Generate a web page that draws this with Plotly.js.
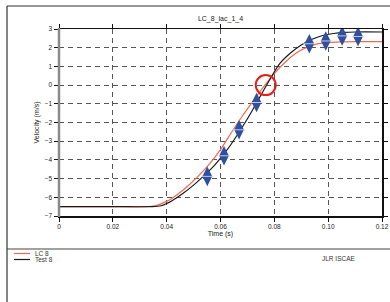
<!DOCTYPE html>
<html>
<head>
<meta charset="utf-8">
<script src="https://cdn.plot.ly/plotly-3.0.1.min.js"></script>
<style>
html,body{margin:0;padding:0;background:#fff;}
#chart{width:390px;height:302px;}
</style>
</head>
<body>
<div id="chart"></div>
<script>
// ---- data ----
const chartTitle = "LC_8_lac_1_4";
const xTitle = "Time (s)";
const yTitle = "Velocity (m/s)";
const footerText = "JLR ISCAE";

const lcName = "LC 8";
const lcTime = [0, 0.01, 0.02, 0.032, 0.036, 0.040, 0.044, 0.048, 0.052, 0.056, 0.060, 0.064, 0.068, 0.072, 0.076, 0.080, 0.084, 0.088, 0.092, 0.096, 0.100, 0.105, 0.110, 0.120];
const lcVel  = [-6.5, -6.5, -6.5, -6.5, -6.44, -6.22, -5.85, -5.38, -4.83, -4.2, -3.45, -2.55, -1.68, -0.88, -0.1, 0.62, 1.22, 1.7, 2.02, 2.2, 2.28, 2.31, 2.32, 2.32];

const testName = "Test 8";
const testTime = [0, 0.01, 0.02, 0.034, 0.038, 0.042, 0.046, 0.050, 0.054, 0.058, 0.062, 0.066, 0.070, 0.074, 0.078, 0.082, 0.086, 0.090, 0.094, 0.098, 0.102, 0.106, 0.110, 0.120];
const testVel  = [-6.5, -6.5, -6.5, -6.5, -6.45, -6.18, -5.8, -5.35, -4.83, -4.25, -3.55, -2.72, -1.8, -0.8, 0.22, 1.15, 1.72, 2.15, 2.45, 2.65, 2.76, 2.82, 2.84, 2.84];

const pointTime = [0.0551, 0.0613, 0.0669, 0.0734, 0.0930, 0.0991, 0.1052, 0.1111];
const pointVel  = [-4.88, -3.78, -2.39, -0.93, 2.21, 2.36, 2.63, 2.60];

const highlightTime = [0.0768];
const highlightVel  = [0.0];

const xTickVals = [0, 0.02, 0.04, 0.06, 0.08, 0.10, 0.12];
const xTickText = ["0", "0.02", "0.04", "0.06", "0.08", "0.10", "0.12"];
const yTickVals = [3, 2, 1, 0, -1, -2, -3, -4, -5, -6, -7];

// ---- chart ----
const FONT = "Liberation Sans, Arial, sans-serif";
const traces = [
  {x: lcTime, y: lcVel, name: lcName, mode: "lines", line: {color: "#f2684f", width: 1.2, shape: "spline", smoothing: 0.8}, showlegend: false},
  {x: testTime, y: testVel, name: testName, mode: "lines", line: {color: "#1a1a1a", width: 1.2, shape: "spline", smoothing: 0.8}, showlegend: false},
  {x: pointTime, y: pointVel, mode: "markers", showlegend: false,
   marker: {symbol: "diamond-tall", size: 14, color: "#2f4f9f", line: {width: 0}}},
  {x: pointTime, y: pointVel, mode: "markers", showlegend: false,
   marker: {symbol: "line-ew", size: 9, line: {color: "rgba(215,225,245,0.85)", width: 1}}},
  {x: highlightTime, y: highlightVel, mode: "markers", showlegend: false,
   marker: {symbol: "circle-open", size: 20, color: "#e0201b", line: {width: 2, color: "#e0201b"}}}
];

// paper coordinate helpers (plot area: px 59..382 horizontally, 29..216 vertically)
const L = 59, R = 382, T = 29, B = 216;
const px = v => (v - L) / (R - L);
const py = v => 1 - (v - T) / (B - T);

const lcLegendY = py(253.5), testLegendY = py(259.5);

const layout = {
  width: 390, height: 302,
  margin: {l: L, r: 390 - R, t: T, b: 302 - B, pad: 0},
  paper_bgcolor: "#fff", plot_bgcolor: "#fff",
  font: {family: FONT, size: 7, color: "#222"},
  title: {text: chartTitle, font: {size: 7, color: "#222"}, x: 0.5, xref: "paper", y: 1 - 19 / 302, yref: "container", yanchor: "middle"},
  showlegend: false,
  xaxis: {
    range: [0, 0.12], tickvals: xTickVals, ticktext: xTickText,
    showline: true, linecolor: "#111", linewidth: 1.5, mirror: "ticks",
    ticks: "outside", ticklen: 4, tickcolor: "#111", tickwidth: 1,
    showgrid: true, gridcolor: "#555", gridwidth: 1, griddash: "5px,4px",
    zeroline: false, tickfont: {size: 6.5, color: "#222"},
    title: {text: xTitle, font: {size: 7, color: "#222"}, standoff: 0}
  },
  yaxis: {
    range: [-7, 3], tickvals: yTickVals,
    showline: true, linecolor: "#111", linewidth: 1.5, mirror: "ticks",
    ticks: "outside", ticklen: 4, tickcolor: "#111", tickwidth: 1,
    showgrid: true, gridcolor: "#555", gridwidth: 1, griddash: "5px,4px",
    zeroline: false, tickfont: {size: 6.5, color: "#222"},
    title: {text: yTitle, font: {size: 7, color: "#222"}, standoff: 4}
  },
  shapes: [
    {type: "line", xref: "paper", yref: "paper", x0: 0, x1: 0, y0: py(B + 1), y1: py(T - 1), line: {color: "#8a8a8a", width: 2.5}},
    {type: "line", xref: "paper", yref: "paper", x0: px(7), x1: px(7), y0: py(302), y1: py(6), line: {color: "#333", width: 1.2}},
    {type: "line", xref: "paper", yref: "paper", x0: px(7), x1: px(390), y0: py(6), y1: py(6), line: {color: "#333", width: 1.2}},
    {type: "line", xref: "paper", yref: "paper", x0: px(7), x1: px(390), y0: py(249), y1: py(249), line: {color: "#444", width: 1.2}},
    {type: "line", xref: "paper", yref: "paper", x0: px(14), x1: px(30), y0: lcLegendY, y1: lcLegendY, line: {color: "#f2684f", width: 1.2}},
    {type: "line", xref: "paper", yref: "paper", x0: px(14), x1: px(30), y0: testLegendY, y1: testLegendY, line: {color: "#1a1a1a", width: 1.2}}
  ],
  annotations: [
    {text: lcName, xref: "paper", yref: "paper", x: px(33), y: lcLegendY, xanchor: "left", yanchor: "middle", showarrow: false, font: {size: 6.5, color: "#333"}},
    {text: testName, xref: "paper", yref: "paper", x: px(33), y: testLegendY, xanchor: "left", yanchor: "middle", showarrow: false, font: {size: 6.5, color: "#333"}},
    {text: footerText, xref: "paper", yref: "paper", x: px(339), y: py(258), xanchor: "center", yanchor: "middle", showarrow: false, font: {size: 6.5, color: "#333"}}
  ]
};

Plotly.newPlot("chart", traces, layout, {staticPlot: true, displayModeBar: false});
</script>
</body>
</html>
